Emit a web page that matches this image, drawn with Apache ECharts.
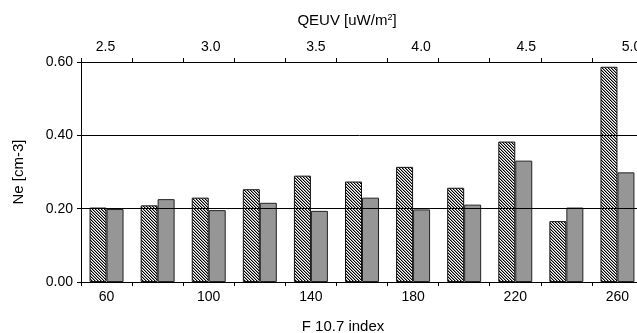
<!DOCTYPE html>
<html>
<head>
<meta charset="utf-8">
<script src="https://cdn.jsdelivr.net/npm/echarts@6/dist/echarts.min.js"></script>
<style>
html,body{margin:0;padding:0;background:#fff;}
#chart{width:637px;height:333px;}
</style>
</head>
<body>
<div id="chart"></div>
<script>
// ---- data ----
const categories = ['60','80','100','120','140','160','180','200','220','240','260'];
const neHatched = [0.203,0.209,0.230,0.253,0.290,0.274,0.314,0.257,0.383,0.166,0.587];
const neGray    = [0.199,0.226,0.196,0.216,0.194,0.230,0.198,0.211,0.331,0.203,0.299];
const qeuvTicks = [2.5,3.0,3.5,4.0,4.5,5.0];
const qeuvRange = [2.3836, 5.0546];
const yTicks = [0.00,0.20,0.40,0.60];

// ---- hatch pattern ----
function makeHatch(){
  const c = document.createElement('canvas');
  c.width = 3; c.height = 3;
  const ctx = c.getContext('2d');
  const img = ctx.createImageData(3,3);
  for (let y=0;y<3;y++) for (let x=0;x<3;x++){
    const d = ((x - y) % 3 + 3) % 3;
    const v = d===0 ? 0 : (d===1 ? 150 : 255);
    const i = (y*3+x)*4;
    img.data[i]=v; img.data[i+1]=v; img.data[i+2]=v; img.data[i+3]=255;
  }
  ctx.putImageData(img,0,0);
  return c;
}

const FONT = 'Liberation Sans, Arial, sans-serif';
const chart = echarts.init(document.getElementById('chart'), null, {renderer:'canvas'});
chart.setOption({
  animation:false,
  backgroundColor:'#fff',
  grid:{left:81, top:62, width:562, height:220, containLabel:false, outerBoundsMode:'none'},
  xAxis:[
    {
      type:'category', position:'bottom', data:categories,
      axisLine:{show:true, lineStyle:{color:'#000',width:1}},
      axisTick:{show:true, interval:0, length:4, lineStyle:{color:'#000',width:1}},
      axisLabel:{interval:1, color:'#000', fontSize:14, fontFamily:FONT, margin:8},
      name:'F 10.7 index', nameLocation:'middle', nameGap:37,
      nameTextStyle:{color:'#000', fontSize:15, fontFamily:FONT, padding:[0,38,0,0]}
    },
    {
      type:'category', position:'top', data:categories,
      axisLine:{show:true, lineStyle:{color:'#000',width:1}},
      axisTick:{show:true, interval:0, length:4, lineStyle:{color:'#000',width:1}},
      axisLabel:{show:false}
    },
    {
      type:'value', position:'top', min:qeuvRange[0], max:qeuvRange[1],
      axisLine:{show:false}, axisTick:{show:false}, splitLine:{show:false},
      axisLabel:{customValues:qeuvTicks, formatter:v=>Number(v).toFixed(1),
        color:'#000', fontSize:14, fontFamily:FONT, margin:8},
      name:'QEUV [uW/m{sup|2}]', nameLocation:'middle', nameGap:33,
      nameTextStyle:{color:'#000', fontSize:15, fontFamily:FONT, padding:[0,30,0,0],
        rich:{sup:{fontSize:9, fontFamily:FONT, color:'#000', verticalAlign:'top', padding:[0,0,7,0]}}}
    }
  ],
  yAxis:{
    type:'value', min:yTicks[0], max:yTicks[yTicks.length-1], interval:0.2, z:10,
    axisLine:{show:true, lineStyle:{color:'#000',width:1}},
    axisTick:{show:true, length:4, lineStyle:{color:'#000'}},
    axisLabel:{formatter:v=>Number(v).toFixed(2), color:'#000', fontSize:14, fontFamily:FONT, margin:8},
    splitLine:{show:true, lineStyle:{color:'#000', width:1}},
    name:'Ne [cm-3]', nameLocation:'middle', nameGap:55,
    nameTextStyle:{color:'#000', fontSize:15, fontFamily:FONT}
  },
  series:[
    {
      type:'bar', xAxisIndex:0, yAxisIndex:0, data:neHatched,
      barGap:'0%', barCategoryGap:'33.5%',
      itemStyle:{color:{image:makeHatch(), repeat:'repeat'}, borderColor:'#111', borderWidth:1}
    },
    {
      type:'bar', xAxisIndex:0, yAxisIndex:0, data:neGray,
      barGap:'0%', barCategoryGap:'33.5%',
      itemStyle:{color:'#969696', borderColor:'#222', borderWidth:1}
    }
  ]
});
</script>
</body>
</html>
